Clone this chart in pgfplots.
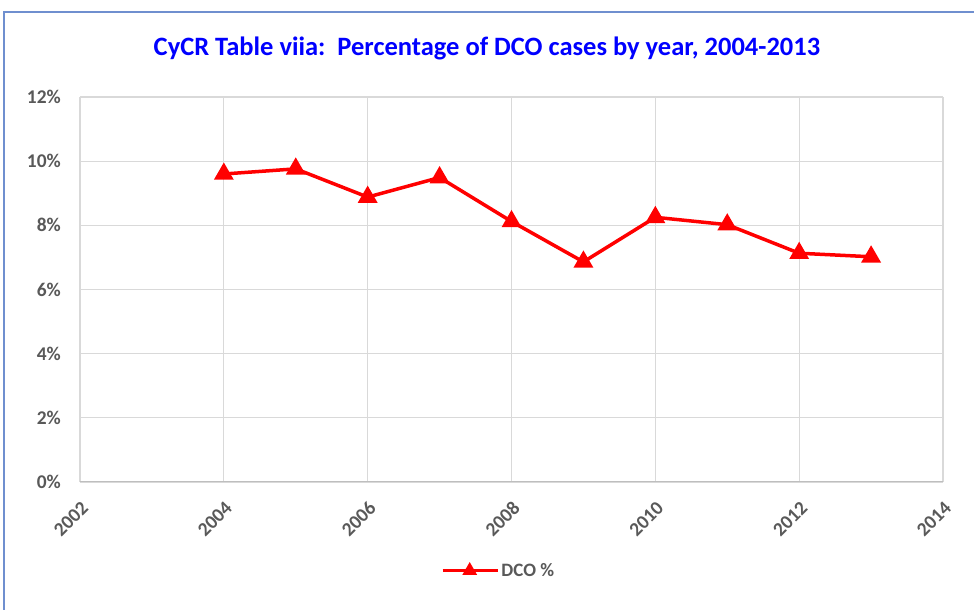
\documentclass[border=0pt]{standalone}
\usepackage{pgfplots}
\pgfplotsset{compat=1.18}
\usepackage{fontspec}
\setmainfont{Carlito}
\definecolor{txtgray}{HTML}{595959}
\definecolor{gridgray}{HTML}{D9D9D9}
\definecolor{framec}{HTML}{6F8FCF}
\definecolor{titleblue}{HTML}{0000FF}
\begin{document}
\begin{tikzpicture}[x=1bp,y=1bp]
\useasboundingbox (0,0) rectangle (974,610);
\fill[white] (0,0) rectangle (974,610);
\draw[framec, line width=2bp] (4,0) -- (4,598) -- (974,598);
\begin{axis}[
  at={(80bp,128bp)}, anchor=south west,
  scale only axis, width=863bp, height=385bp,
  xmin=2002, xmax=2014, ymin=0, ymax=12,
  xtick={2002,2004,...,2014}, ytick={0,2,...,12},
  /pgf/number format/assume math mode=true,
  xticklabel={\pgfmathprintnumber[1000 sep={}]{\tick}},
  yticklabel={\pgfmathprintnumber{\tick}\%},
  tick label style={font=\bfseries\fontsize{19.5}{19.5}\selectfont, text=txtgray},
  x tick label style={xshift=5bp, yshift=-23bp, rotate=45, anchor=east, inner sep=0pt},
  y tick label style={inner sep=0pt, xshift=-19bp},
  grid=major, major grid style={gridgray, line width=1.3bp},
  axis line style={gridgray, line width=1.3bp},
  x axis line style={draw=none},
  tick style={draw=none},
  axis x line*=bottom, axis y line*=left,
  legend style={at={(0.485,-0.23)}, anchor=center, draw=none, fill=none,
    font=\bfseries\fontsize{19}{19}\selectfont, text=txtgray},
  legend cell align=left,
  legend image code/.code={\draw[#1, mark size=5bp] (0bp,0bp) -- (27bp,0bp) plot coordinates {(27bp,0bp)} -- (55bp,0bp);},
]
\addplot[red, line width=3.5bp, mark=triangle*, mark size=8bp, mark options={solid}]
coordinates {
(2004,9.60) (2005,9.76) (2006,8.88) (2007,9.49) (2008,8.12)
(2009,6.86) (2010,8.25) (2011,8.02) (2012,7.13) (2013,7.02)
};
\addlegendentry{DCO \%}
\draw[gridgray!70!gray, line width=1.5bp] (axis cs:2002,0) -- (axis cs:2014,0);
\end{axis}
\node[font=\bfseries\fontsize{26.6}{26.6}\selectfont, text=titleblue] at (487,562) {CyCR Table viia:\ \ Percentage of DCO cases by year, 2004-2013};
\end{tikzpicture}
\end{document}
